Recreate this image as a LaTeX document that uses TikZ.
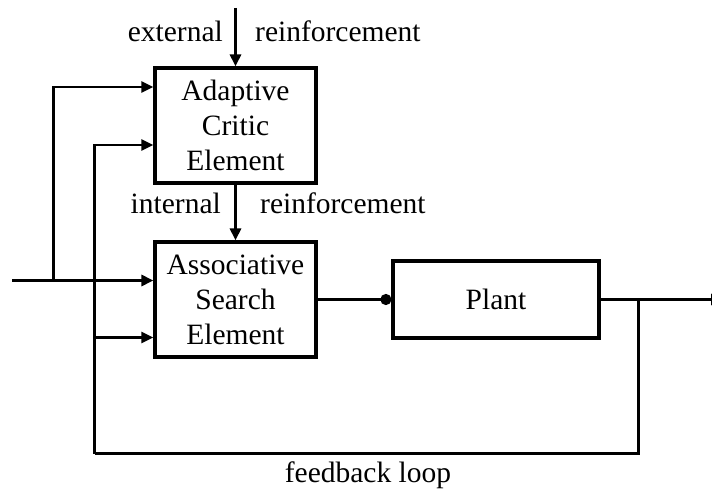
\documentclass[tikz,border=0pt]{standalone}
\usepackage{fontspec}
\setmainfont{Liberation Serif}
\usetikzlibrary{arrows.meta}
\begin{document}
\begin{tikzpicture}[x=1pt,y=-1pt,
  every node/.style={font=\fontsize{29.5}{35}\selectfont},
  blk/.style={draw,line width=3.2pt,align=center,inner sep=0pt},
  mainln/.style={line width=3pt},
  sideln/.style={line width=2.4pt},
  arr/.style={mainln,-{Triangle[length=12pt,width=11pt]}},
  sidearr/.style={sideln,-{Triangle[length=12pt,width=11pt]}},
  dotarr/.style={mainln,-{Circle[length=11pt]}},
  lbl/.style={inner sep=0pt}]
\useasboundingbox (0,0) rectangle (712,492);
\clip (0,0) rectangle (712,492);
\node[blk,minimum width=161pt,minimum height=115pt] (ACE) at (235.5,125.5) {Adaptive\\Critic\\Element};
\node[blk,minimum width=161pt,minimum height=115pt] (ASE) at (235.5,299.5) {Associative\\Search\\Element};
\node[blk,minimum width=206pt,minimum height=77pt] (P) at (496,299.5) {Plant};
% labels
\node[lbl,anchor=base east] (ext) at (223,42) {external};
\node[lbl,anchor=base west] (r1) at (255,42) {reinforcement};
\node[lbl,anchor=base east] (int) at (221,213) {internal};
\node[lbl,anchor=base west] (r2) at (260,213) {reinforcement};
\node[lbl,anchor=base] (fbl) at (368,482) {feedback loop};
% coordinates
\coordinate (top) at (235.5,8);
\coordinate (in) at (12,280.5);
\coordinate (j1) at (53.5,280.5);
\coordinate (fb) at (638.5,299.5);
\coordinate (b1) at (94.5,453.5);
\coordinate (b2) at (94.5,337.5);
\coordinate (out) at (723,299.5);
% connectors
\draw[arr] (top) -- (ACE.north);
\draw[arr] (ACE.south) -- (ASE.north);
\draw[arr] (in) -- (in -| ASE.west);
\draw[sidearr] (j1) |- ([yshift=38.5pt]ACE.west);
\draw[dotarr] (ASE.east) -- (P.west);
\draw[arr] (P.east) -- (out);
\draw[sideln] (fb) |- (b1);
\draw[sidearr] (b1) |- ([yshift=-19.5pt]ACE.west);
\draw[sidearr] (b2) -- (b2 -| ASE.west);
\end{tikzpicture}
\end{document}
